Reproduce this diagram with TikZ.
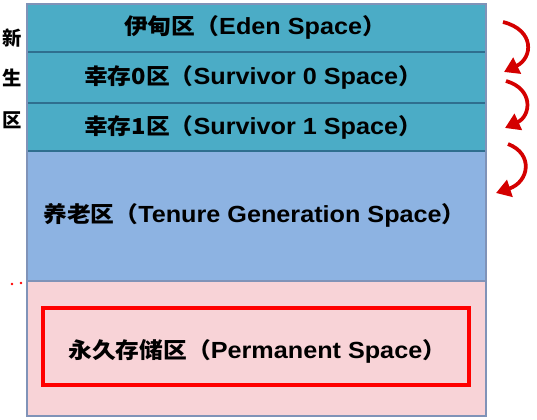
\documentclass[tikz,border=0pt]{standalone}
\usepackage{fontspec}
\setmainfont{Liberation Sans}
\newfontfamily\cjk{Noto Sans CJK SC}
\usetikzlibrary{arrows.meta}
\definecolor{teal1}{HTML}{4BACC6}
\definecolor{tealline}{HTML}{2F6F8F}
\definecolor{tenure}{HTML}{8DB3E2}
\definecolor{perm}{HTML}{F8D3D7}
\definecolor{outer}{HTML}{8093B8}
\definecolor{arrowred}{HTML}{D40000}
\newcommand\zhtxt[1]{{\cjk\bfseries\fontsize{16.5}{18}\selectfont #1}}
\newcommand\wide[1]{\scalebox{1.08}[1]{#1}}
\tikzset{
  row/.style={draw=tealline, line width=1.5pt},
  lbl/.style={font=\bfseries\fontsize{17.5}{20}\selectfont, inner sep=0pt},
  side/.style={font=\cjk\bfseries\fontsize{14.5}{16}\selectfont, inner sep=0pt},
  flow/.style={draw=arrowred, line width=2.8pt, -{Triangle[length=11pt,width=13pt]}},
}
\begin{document}
\begin{tikzpicture}[x=0.75pt,y=-0.75pt]
\useasboundingbox[fill=white] (0,0) rectangle (537,420);
% regions
\fill[teal1] (27,4) rectangle (486,151);
\fill[tenure] (27,151) rectangle (486,281);
\fill[perm] (27,281) rectangle (486,416);
\draw[row] (27,52) -- (486,52);
\draw[row] (27,103) -- (486,103);
\draw[row] (27,151) -- (486,151);
\draw[draw=outer, line width=1pt] (27,281) -- (486,281);
\draw[draw=tealline, line width=1pt] (27,4) -- (486,4);
\draw[draw=outer, line width=1.2pt] (27,4) rectangle (486,416);
% red frame
\draw[draw=red, line width=3pt] (43,308) rectangle (469,385);
% labels
\node[lbl] (eden) at (255,27) {\wide{\zhtxt{伊甸区（}Eden Space\zhtxt{）}}};
\node[lbl] (s0) at (253,77) {\wide{\zhtxt{幸存0区（}Survivor 0 Space\zhtxt{）}}};
\node[lbl] (s1) at (253,127) {\wide{\zhtxt{幸存1区（}Survivor 1 Space\zhtxt{）}}};
\node[lbl, anchor=west] (ten) at (43,215) {\wide{\zhtxt{养老区（}Tenure Generation Space\zhtxt{）}}};
\node[lbl, anchor=west] (perm) at (68,351) {\wide{\zhtxt{永久存储区（}Permanent Space\zhtxt{）}}};
% side labels
\node[side] (x1) at (12,38) {新};
\node[side] (x2) at (12,78) {生};
\node[side] (x3) at (12,120) {区};
% small red marks
\fill[red] (12,284) circle (1.3);
\fill[red] (21,283) circle (1.3);
% arrows
\coordinate (a1s) at (503,22);
\coordinate (a1e) at (504,72);
\coordinate (a2s) at (506,81);
\coordinate (a2e) at (505,128);
\coordinate (a3s) at (508,144);
\coordinate (a3e) at (496,193);
\draw[flow] (a1s) .. controls (535,30) and (533,58) .. (a1e);
\draw[flow] (a2s) .. controls (534,89) and (531,116) .. (a2e);
\draw[flow] (a3s) .. controls (534,154) and (529,182) .. (a3e);
\end{tikzpicture}
\end{document}
